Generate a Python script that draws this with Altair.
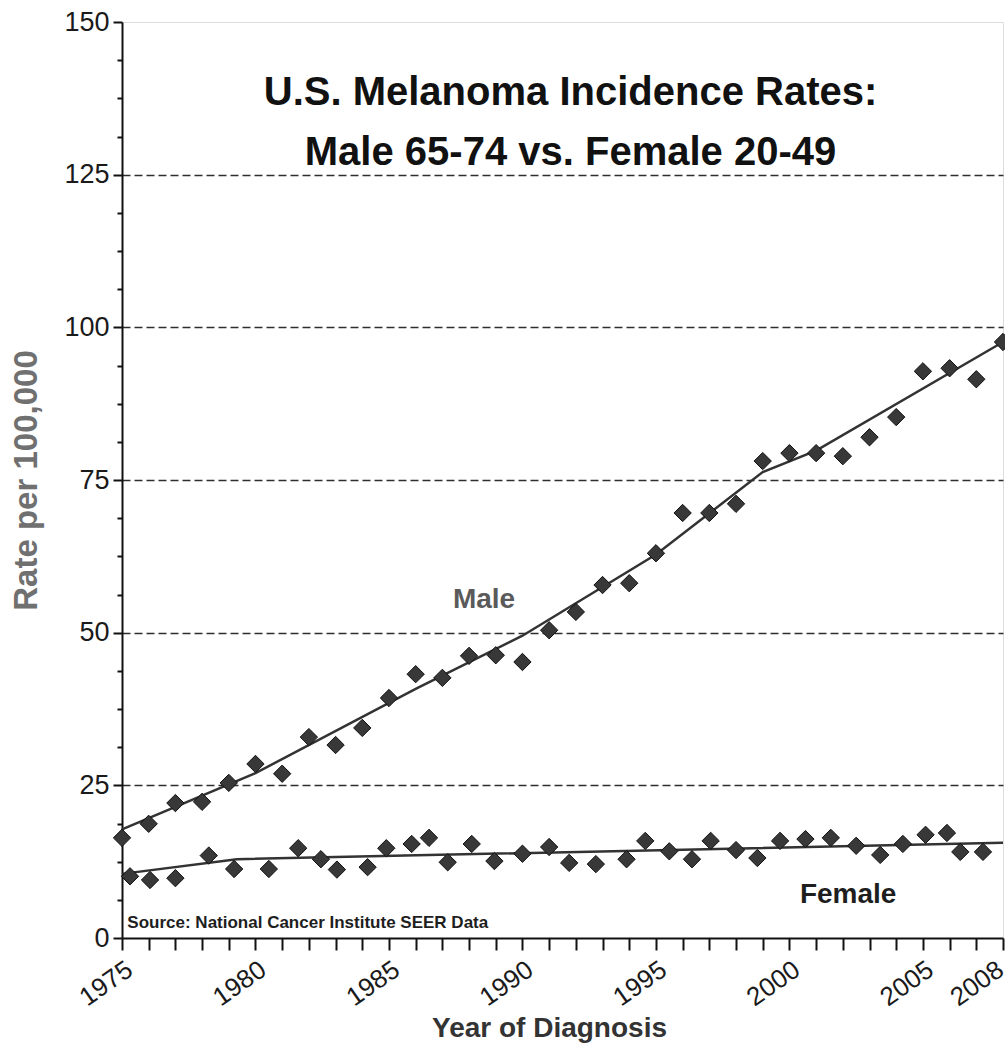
import altair as alt
import pandas as pd

# ---- data ----
male_years = list(range(1975, 2009))
male_rates = [16.4, 18.7, 22.1, 22.3, 25.4, 28.5, 26.9, 32.9, 31.6, 34.4,
              39.3, 43.2, 42.6, 46.2, 46.3, 45.2, 50.4, 53.4, 57.8, 58.1,
              63.0, 69.6, 69.6, 71.1, 78.1, 79.4, 79.4, 78.9, 82.0, 85.3,
              92.8, 93.3, 91.5, 97.6]

female_years = [1975.3, 1976.05, 1977.0, 1978.25, 1979.2, 1980.5, 1981.6, 1982.45,
                1983.05, 1984.2, 1984.9, 1985.85, 1986.5, 1987.2, 1988.1, 1988.95,
                1990.0, 1991.0, 1991.75, 1992.75, 1993.9, 1994.6, 1995.5, 1996.35,
                1997.05, 1998.0, 1998.8, 1999.65, 2000.6, 2001.55, 2002.5, 2003.4,
                2004.25, 2005.1, 2005.9, 2006.4, 2007.25]
female_rates = [10.1, 9.5, 9.8, 13.5, 11.3, 11.3, 14.7, 12.9,
                11.2, 11.6, 14.7, 15.4, 16.4, 12.4, 15.4, 12.6,
                13.8, 14.9, 12.3, 12.1, 12.9, 15.9, 14.2, 12.9,
                15.9, 14.4, 13.1, 15.9, 16.2, 16.4, 15.1, 13.6,
                15.4, 16.9, 17.2, 14.1, 14.1]

male_fit_years = [1975, 1980, 1986, 1990, 1995, 1999, 2001, 2008]
male_fit_rates = [17.8, 27.0, 40.8, 49.5, 62.8, 76.3, 79.8, 97.6]
female_fit_years = [1975, 1979.3, 2008]
female_fit_rates = [10.5, 12.9, 15.6]

x_label_years = [1975, 1980, 1985, 1990, 1995, 2000, 2005, 2008]
x_tick_years = list(range(1975, 2009))
y_ticks = [i * 6.25 for i in range(25)]

title_lines = ["U.S. Melanoma Incidence Rates:", "Male 65-74 vs. Female 20-49"]
male_label = "Male"
female_label = "Female"
source_label = "Source: National Cancer Institute SEER Data"

# ---- tables ----
male_df = pd.DataFrame({"year": male_years, "rate": male_rates})
female_df = pd.DataFrame({"year": female_years, "rate": female_rates})
male_fit = pd.DataFrame({"year": male_fit_years, "rate": male_fit_rates})
female_fit = pd.DataFrame({"year": female_fit_years, "rate": female_fit_rates})

title_df = pd.DataFrame({"year": [1991.8, 1991.8], "rate": [136.4, 126.6], "text": title_lines})
male_lab_df = pd.DataFrame({"year": [1988.56], "rate": [54.0], "text": [male_label]})
female_lab_df = pd.DataFrame({"year": [2002.2], "rate": [5.7], "text": [female_label]})
source_df = pd.DataFrame({"year": [1975.2], "rate": [1.6], "text": [source_label]})

FONT = "Liberation Sans"

label_list = "[" + ",".join(str(v) for v in x_label_years) + "]"

X = alt.X(
    "year:Q",
    scale=alt.Scale(domain=[1975, 2008], nice=False, zero=False),
    axis=alt.Axis(
        values=x_tick_years,
        format="d",
        labelExpr=f"indexof({label_list}, datum.value) >= 0 ? datum.label : ''",
        labelAngle=-35,
        labelAlign="right",
        labelBaseline="top",
        labelFontSize=26,
        labelFont=FONT,
        labelColor="#1a1a1a",
        labelPadding=6,
        labelOffset={"condition": {"test": "datum.value === 2008", "value": -10}, "value": 0},
        labelOverlap=False,
        labelFlush=False,
        tickSize=12,
        tickWidth=2,
        tickColor="#111",
        domainColor="#111",
        domainWidth=2,
        grid=False,
        title="Year of Diagnosis",
        titleFont=FONT,
        titleFontSize=28,
        titleFontWeight="bold",
        titleColor="#333",
        titleX=427,
        titleY=98,
        titleBaseline="alphabetic",
        titleAlign="center",
    ),
)

Y = alt.Y(
    "rate:Q",
    scale=alt.Scale(domain=[0, 150], nice=False),
    axis=alt.Axis(
        values=y_ticks,
        labelExpr="datum.value % 25 === 0 ? datum.label : ''",
        labelFontSize=27,
        labelFont=FONT,
        labelColor="#1a1a1a",
        labelPadding=4,
        tickSize={"condition": {"test": "datum.value % 25 === 0", "value": 9}, "value": 5},
        tickWidth=2,
        tickColor="#111",
        domainColor="#111",
        domainWidth=2,
        grid=True,
        gridColor="#2e2e2e",
        gridWidth=1.6,
        gridDash=[8, 4],
        gridOpacity={"condition": {"test": "datum.value % 25 === 0 && datum.value > 0 && datum.value < 150", "value": 1}, "value": 0},
        title="Rate per 100,000",
        titleFont=FONT,
        titleFontSize=33,
        titleFontWeight="bold",
        titleColor="#707070",
        titleAngle=270,
        titleX=-96,
        titleY=458,
        titleAlign="center",
        titleBaseline="middle",
    ),
)

male_line = alt.Chart(male_fit).mark_line(color="#333", strokeWidth=2.5).encode(x=X, y=Y)
female_line = alt.Chart(female_fit).mark_line(color="#333", strokeWidth=2.5).encode(x=X, y=Y)

pts_kw = dict(shape="diamond", filled=True, size=300, color="#383838", stroke="#111",
              strokeWidth=1, opacity=1)
male_pts = alt.Chart(male_df).mark_point(**pts_kw).encode(x=X, y=Y)
female_pts = alt.Chart(female_df).mark_point(**pts_kw).encode(x=X, y=Y)

title_txt = alt.Chart(title_df).mark_text(
    font=FONT, fontSize=40, fontWeight="bold", color="#111",
    align="center", baseline="alphabetic"
).encode(x=X, y=Y, text="text:N")

male_txt = alt.Chart(male_lab_df).mark_text(
    font=FONT, fontSize=28, fontWeight="bold", color="#5a5a5a",
    align="center", baseline="alphabetic"
).encode(x=X, y=Y, text="text:N")

female_txt = alt.Chart(female_lab_df).mark_text(
    font=FONT, fontSize=28, fontWeight="bold", color="#1e1e1e",
    align="center", baseline="alphabetic"
).encode(x=X, y=Y, text="text:N")

source_txt = alt.Chart(source_df).mark_text(
    font=FONT, fontSize=17, fontWeight="bold", color="#1e1e1e",
    align="left", baseline="alphabetic"
).encode(x=X, y=Y, text="text:N")

chart = alt.layer(
    male_line, female_line, male_pts, female_pts,
    title_txt, male_txt, female_txt, source_txt
).properties(
    width=881,
    height=916,
    autosize=alt.AutoSizeParams(type="none"),
    padding={"left": 122, "top": 22, "right": 2, "bottom": 106},
).configure_view(
    stroke="#111", strokeWidth=2
).configure(background="white")

chart.save("out.html", embed_options={"renderer": "svg", "actions": False})
